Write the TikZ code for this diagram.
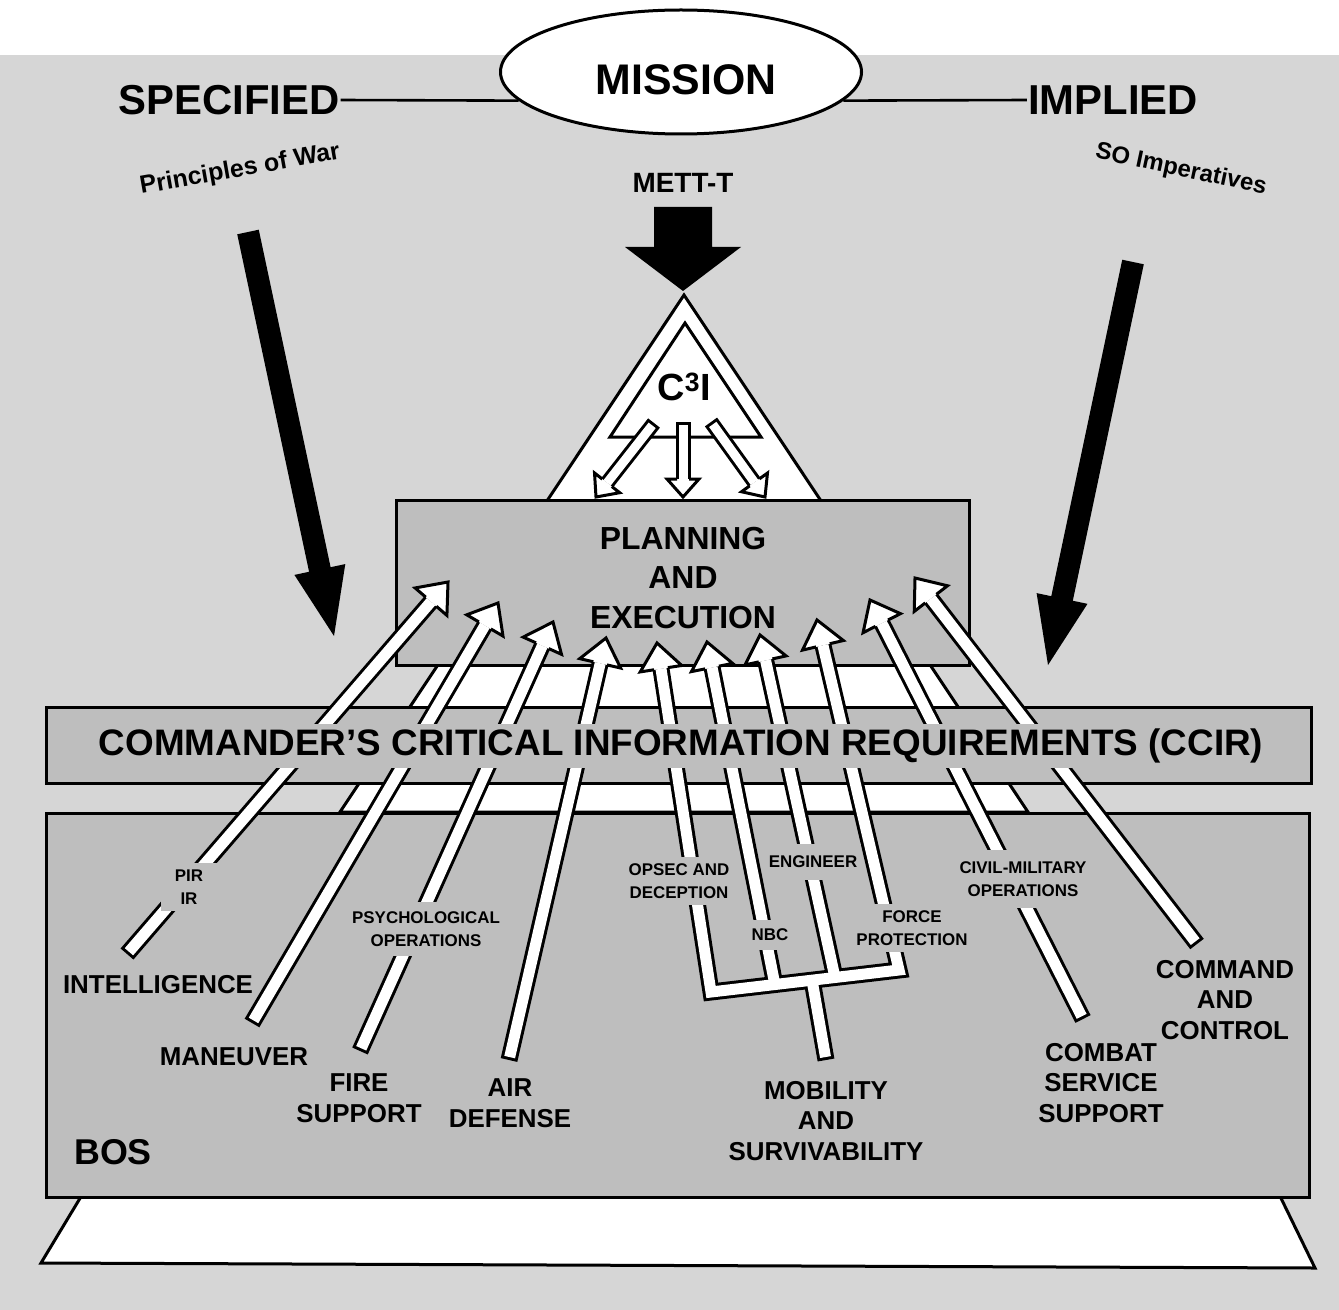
\documentclass[tikz,border=0pt]{standalone}
\usepackage{fontspec}
\setmainfont{Liberation Sans}
\usetikzlibrary{calc,shapes.geometric}
\definecolor{bggray}{RGB}{214,214,214}
\definecolor{boxgray}{RGB}{190,190,190}
\tikzset{
  panel/.style={draw, line width=3bp, fill=boxgray, inner sep=0, anchor=north west},
  shaftout/.style={draw=black, line width=17bp, line cap=butt, line join=miter},
  shaftin/.style={draw=white, line width=11bp, line cap=butt, line join=miter},
  sshaftout/.style={draw=black, line width=15bp, line cap=butt},
  sshaftin/.style={draw=white, line width=9bp, line cap=butt},
  headst/.style={fill=white, draw=black, line width=3bp, line join=miter},
  biglab/.style={font={\bfseries\fontsize{42}{46}\selectfont}, inner sep=1bp},
  lab/.style={font={\bfseries\fontsize{26}{31}\selectfont}, align=center, inner sep=0},
  slab/.style={font={\bfseries\fontsize{17}{23}\selectfont}, align=center, fill=boxgray, inner xsep=4bp, inner ysep=7bp},
  tieline/.style={line width=2.6bp},
}
\newcommand\headat[4]{\filldraw[headst] ($(#1)!#3!90:(#2)$) -- ($(#1)!#4!90:(#2)$) -- (#2) -- ($(#1)!#4!-90:(#2)$) -- ($(#1)!#3!-90:(#2)$);}
\newcommand\solidarrow[6]{%
  \coordinate (#1B) at ($(#3)!#6!(#2)$);
  \fill ($(#2)!#4!90:(#3)$) -- ($(#1B)!#4!90:(#3)$) -- ($(#1B)!#5!90:(#3)$) -- (#3) -- ($(#1B)!#5!-90:(#3)$) -- ($(#1B)!#4!-90:(#3)$) -- ($(#2)!#4!-90:(#3)$) -- cycle;}
\begin{document}
\begin{tikzpicture}[x=1bp,y=-1bp]
\useasboundingbox (0,0) rectangle (1339,1310);
\fill[white] (0,0) rectangle (1339,1310);
\fill[bggray] (0,55) rectangle (1339,1310);

% pyramid and C3I triangle
\coordinate (apex) at (684,295);
\filldraw[fill=white, line width=3bp, line join=miter] (apex) -- (340,812) -- (1028,812) -- cycle;
\filldraw[fill=white, line width=3bp, line join=miter] (685,323) -- (610,437) -- (761,437) -- cycle;
\node[font={\bfseries\fontsize{38}{40}\selectfont}, inner sep=0] (c3i) at (684,387) {C\textsuperscript{3}I};

% base slab
\filldraw[fill=white, line width=3bp, line join=miter] (85,1190) -- (41,1263) -- (1315,1268) -- (1277,1190) -- cycle;

% panels
\node[panel, minimum width=573bp, minimum height=165bp] (plan) at (395,499) {};
\node[panel, minimum width=1265bp, minimum height=76bp] (ccir) at (45,706) {};
\node[panel, minimum width=1263bp, minimum height=384bp] (bos) at (45,812) {};
\node[lab, font={\bfseries\fontsize{32}{40}\selectfont}] (pe) at (683,578) {PLANNING\\AND\\EXECUTION};

% C3I arrows
\coordinate (c1T) at (654,423); \coordinate (c1P) at (596,497);
\coordinate (c2T) at (683,422); \coordinate (c2P) at (683,497);
\coordinate (c3T) at (711,422); \coordinate (c3P) at (765,497);
\foreach \i in {1,2,3}{\coordinate (c\i B) at ($(c\i P)!18bp!(c\i T)$);}
\foreach \i in {1,2,3}{\draw[sshaftout] (c\i T) -- (c\i B);}
\foreach \i in {1,2,3}{\draw[sshaftin, shorten <=3bp] (c\i T) -- (c\i B);}
\foreach \i in {1,2,3}{\headat{c\i B}{c\i P}{6bp}{16bp}}

% BOS arrows
\coordinate (intT) at (127,954);  \coordinate (intP) at (448,582);
\coordinate (manT) at (252,1023); \coordinate (manP) at (498,603);
\coordinate (fsT) at (360,1051);  \coordinate (fsP) at (553,622);
\coordinate (adT) at (509,1060);  \coordinate (adP) at (606,638);
\coordinate (opsT) at (711,992);  \coordinate (opsP) at (657,643);
\coordinate (nbcT) at (775,985);  \coordinate (nbcP) at (707,642);
\coordinate (engT) at (835,977.5);\coordinate (engP) at (760,635);
\coordinate (fpT) at (899,970);   \coordinate (fpP) at (817,620);
\coordinate (cssT) at (1083,1019);\coordinate (cssP) at (870,600);
\coordinate (ccT) at (1197,944);  \coordinate (ccP) at (915,578);
\coordinate (stemT) at (812,980); \coordinate (stemB) at (826,1060);
\foreach \a in {int,man,fs,ad,ops,nbc,eng,fp,css,cc}{\coordinate (\a B) at ($(\a P)!26bp!(\a T)$);}
\foreach \a in {int,man,fs,ad,css,cc}{\draw[shaftout] (\a T) -- (\a B);}
\draw[shaftout] (opsB) -- (opsT) -- (fpT) -- (fpB);
\draw[shaftout] (nbcB) -- (nbcT);
\draw[shaftout] (engB) -- (engT);
\draw[shaftout] (stemT) -- (stemB);
\foreach \a in {int,man,fs,ad,css,cc}{\draw[shaftin, shorten <=3bp] (\a T) -- (\a B);}
\draw[shaftin] (opsB) -- (opsT) -- (fpT) -- (fpB);
\draw[shaftin] (nbcB) -- (nbcT);
\draw[shaftin] (engB) -- (engT);
\draw[shaftin, shorten >=3bp] (stemT) -- (stemB);
\foreach \a in {int,man,fs,ad,ops,nbc,eng,fp,css,cc}{\headat{\a B}{\a P}{7bp}{21bp}}

% CCIR text
\node[font={\bfseries\fontsize{37}{40}\selectfont}, fill=boxgray, inner xsep=2bp, minimum height=44bp] (ccirt) at (681,746) {COMMANDER'S CRITICAL INFORMATION REQUIREMENTS (CCIR)};

% small labels
\node[slab, inner xsep=14bp] (pir) at (189,887) {PIR\\IR};
\node[slab, inner ysep=10bp] (psy) at (426,929) {PSYCHOLOGICAL\\OPERATIONS};
\node[slab] (opsl) at (679,881) {OPSEC AND\\DECEPTION};
\node[slab, inner ysep=12bp] (engl) at (813,862) {ENGINEER};
\node[slab, inner ysep=9bp] (nbcl) at (770,935) {NBC};
\node[slab] (fpl) at (912,928) {FORCE\\PROTECTION};
\node[slab, inner ysep=12bp] (cml) at (1023,879) {CIVIL-MILITARY\\OPERATIONS};

% main labels
\node[lab] (intl) at (158,985) {INTELLIGENCE};
\node[lab] (manl) at (234,1057) {MANEUVER};
\node[lab] (fsl) at (359,1098) {FIRE\\SUPPORT};
\node[lab] (adl) at (510,1103) {AIR\\DEFENSE};
\node[lab] (msl) at (826,1121) {MOBILITY\\AND\\SURVIVABILITY};
\node[lab] (cssl) at (1101,1083) {COMBAT\\SERVICE\\SUPPORT};
\node[lab] (ccl) at (1225,1000) {COMMAND\\AND\\CONTROL};
\node[lab, font={\bfseries\fontsize{36}{40}\selectfont}] (bosl) at (113,1152) {BOS};

% top
\node[ellipse, draw, line width=3bp, fill=white, minimum width=361bp, minimum height=124bp] (mission) at (681,72) {};
\node[biglab, font={\bfseries\fontsize{43}{46}\selectfont}] (missiont) at (686,80) {MISSION};
\node[biglab] (spec) at (229,100) {SPECIFIED};
\node[biglab] (impl) at (1113,100) {IMPLIED};
\draw[tieline] (spec.east) -- (mission.190);
\draw[tieline] (impl.west) -- (mission.-10);
\node[font={\bfseries\fontsize{28}{30}\selectfont}, inner sep=0] (mett) at (683,183) {METT-T};
\node[font={\bfseries\fontsize{25}{28}\selectfont}, rotate=10, inner sep=0] (pow) at (240,170) {Principles of War};
\node[font={\bfseries\fontsize{24}{28}\selectfont}, rotate=-12, inner sep=0] (soi) at (1181,170) {SO Imperatives};

\coordinate (mtT) at (683,207); \coordinate (mtP) at (683,291);
\solidarrow{mt}{mtT}{mtP}{29bp}{58bp}{44bp}
\coordinate (pwT) at (248,232); \coordinate (pwP) at (334,636);
\solidarrow{pw}{pwT}{pwP}{11bp}{26bp}{68bp}
\coordinate (soT) at (1133,262); \coordinate (soP) at (1048,665);
\solidarrow{so}{soT}{soP}{11bp}{26bp}{68bp}
\end{tikzpicture}
\end{document}
